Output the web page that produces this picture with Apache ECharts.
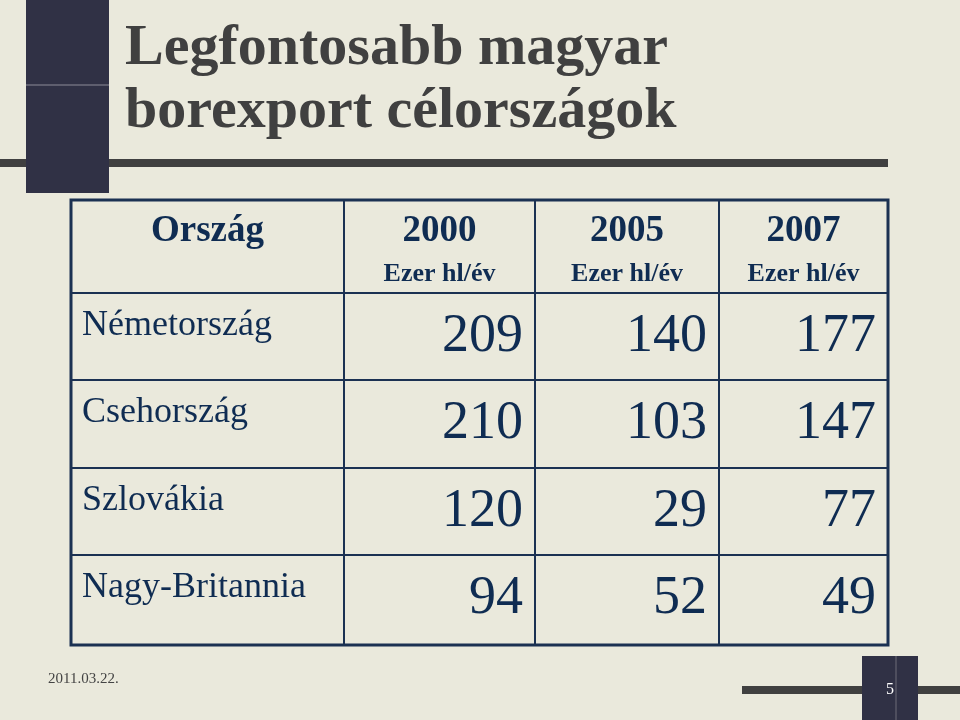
<!DOCTYPE html>
<html><head><meta charset="utf-8">
<script src="https://cdn.jsdelivr.net/npm/echarts@6/dist/echarts.min.js"></script>
<style>html,body{margin:0;padding:0;background:#eae9dc}#c{width:960px;height:720px}</style>
</head><body><div id="c"></div>
<script>
// ---- content ----
const titleLines = ['Legfontosabb magyar', 'borexport célországok'];
const headerLabel = 'Ország';
const years = ['2000', '2005', '2007'];
const unitLabel = 'Ezer hl/év';
const countries = ['Németország', 'Csehország', 'Szlovákia', 'Nagy-Britannia'];
const values2000 = [209, 210, 120, 94];
const values2005 = [140, 103, 29, 52];
const values2007 = [177, 147, 77, 49];
const dateLabel = '2011.03.22.';
const pageLabel = '5';

// ---- layout (table boundaries in axis units) ----
const colEdges = [0, 273, 464, 648, 817];
const rowEdges = [0, 93, 180, 268, 355, 445];

const LINE = '#1b3152';
const INK = '#0f2c52';
const SERIF = '"Liberation Serif", "Times New Roman", serif';
const DARK = '#303145';
const BAR = '#404040';

const chart = echarts.init(document.getElementById('c'), null, {renderer: 'canvas'});

function cellBox(api, c, r) {
  const p0 = api.coord([colEdges[c], rowEdges[r]]);
  const p1 = api.coord([colEdges[c + 1], rowEdges[r + 1]]);
  return {x0: p0[0], y0: p0[1], x1: p1[0], y1: p1[1]};
}

const cellData = [];
for (let r = 0; r < rowEdges.length - 1; r++)
  for (let c = 0; c < colEdges.length - 1; c++) cellData.push([c, r]);

function valueSeries(vals, col) {
  return {
    type: 'custom', coordinateSystem: 'cartesian2d', z: 5,
    data: vals.map((v, i) => [col, i + 1, v]),
    renderItem: function (params, api) {
      const b = cellBox(api, api.value(0), api.value(1));
      return {type: 'text', x: b.x1 - 12, y: b.y0 + 44,
        style: {text: String(api.value(2)), fill: INK, fontFamily: SERIF, fontSize: 54,
          align: 'right', verticalAlign: 'middle'}};
    }
  };
}

const option = {
  backgroundColor: '#eae9dc',
  animation: false,
  grid: {left: 71, top: 200, width: 817, height: 445, show: true,
    borderColor: LINE, borderWidth: 3, backgroundColor: 'transparent'},
  xAxis: {type: 'value', min: 0, max: 817, show: false},
  yAxis: {type: 'value', min: 0, max: 445, inverse: true, show: false},
  graphic: [
    {type: 'rect', shape: {x: 0, y: 159, width: 888, height: 8}, style: {fill: BAR}, z: 1},
    {type: 'rect', shape: {x: 26, y: 0, width: 83, height: 193}, style: {fill: DARK}, z: 2},
    {type: 'line', shape: {x1: 26, y1: 85, x2: 109, y2: 85}, style: {stroke: '#8c8c98', lineWidth: 1}, z: 3},
    {type: 'text', x: 125, y: 49, style: {text: titleLines[0], fill: '#404040', fontFamily: SERIF,
      fontWeight: 'bold', fontSize: 58, verticalAlign: 'middle'}, z: 3},
    {type: 'text', x: 125, y: 112, style: {text: titleLines[1], fill: '#404040', fontFamily: SERIF,
      fontWeight: 'bold', fontSize: 58, verticalAlign: 'middle'}, z: 3},
    {type: 'text', x: 48, y: 679, style: {text: dateLabel, fill: '#444', fontFamily: SERIF,
      fontSize: 15, verticalAlign: 'middle'}, z: 3},
    {type: 'rect', shape: {x: 742, y: 686, width: 218, height: 8}, style: {fill: BAR}, z: 1},
    {type: 'rect', shape: {x: 862, y: 656, width: 56, height: 64}, style: {fill: DARK}, z: 2},
    {type: 'line', shape: {x1: 896, y1: 656, x2: 896, y2: 720}, style: {stroke: '#6c6c78', lineWidth: 1}, z: 3},
    {type: 'text', x: 890, y: 690, style: {text: pageLabel, fill: '#ffffff', fontFamily: SERIF,
      fontSize: 16, align: 'center', verticalAlign: 'middle'}, z: 4}
  ],
  series: [
    { // table cells
      type: 'custom', coordinateSystem: 'cartesian2d', z: 3,
      data: cellData,
      renderItem: function (params, api) {
        const b = cellBox(api, api.value(0), api.value(1));
        return {type: 'rect', shape: {x: b.x0, y: b.y0, width: b.x1 - b.x0, height: b.y1 - b.y0},
          style: {fill: 'none', stroke: LINE, lineWidth: 2}};
      }
    },
    { // header: country column
      type: 'custom', coordinateSystem: 'cartesian2d', z: 5,
      data: [[0, 0]],
      renderItem: function (params, api) {
        const b = cellBox(api, 0, 0);
        return {type: 'text', x: (b.x0 + b.x1) / 2, y: b.y0 + 31,
          style: {text: headerLabel, fill: INK, fontFamily: SERIF, fontWeight: 'bold', fontSize: 37,
            align: 'center', verticalAlign: 'middle'}};
      }
    },
    { // header: years + unit
      type: 'custom', coordinateSystem: 'cartesian2d', z: 5,
      data: years.map((y, i) => [i + 1, 0]),
      renderItem: function (params, api) {
        const b = cellBox(api, api.value(0), 0);
        const cx = (b.x0 + b.x1) / 2;
        return {type: 'group', children: [
          {type: 'text', x: cx, y: b.y0 + 31,
            style: {text: years[params.dataIndex], fill: INK, fontFamily: SERIF, fontWeight: 'bold',
              fontSize: 37, align: 'center', verticalAlign: 'middle'}},
          {type: 'text', x: cx, y: b.y0 + 74,
            style: {text: unitLabel, fill: INK, fontFamily: SERIF, fontWeight: 'bold',
              fontSize: 26, align: 'center', verticalAlign: 'middle'}}
        ]};
      }
    },
    { // country names
      type: 'custom', coordinateSystem: 'cartesian2d', z: 5,
      data: countries.map((n, i) => [0, i + 1]),
      renderItem: function (params, api) {
        const b = cellBox(api, 0, api.value(1));
        return {type: 'text', x: b.x0 + 11, y: b.y0 + 33,
          style: {text: countries[params.dataIndex], fill: INK, fontFamily: SERIF, fontSize: 36,
            align: 'left', verticalAlign: 'middle'}};
      }
    },
    valueSeries(values2000, 1),
    valueSeries(values2005, 2),
    valueSeries(values2007, 3)
  ]
};
chart.setOption(option);
</script>
</body></html>
